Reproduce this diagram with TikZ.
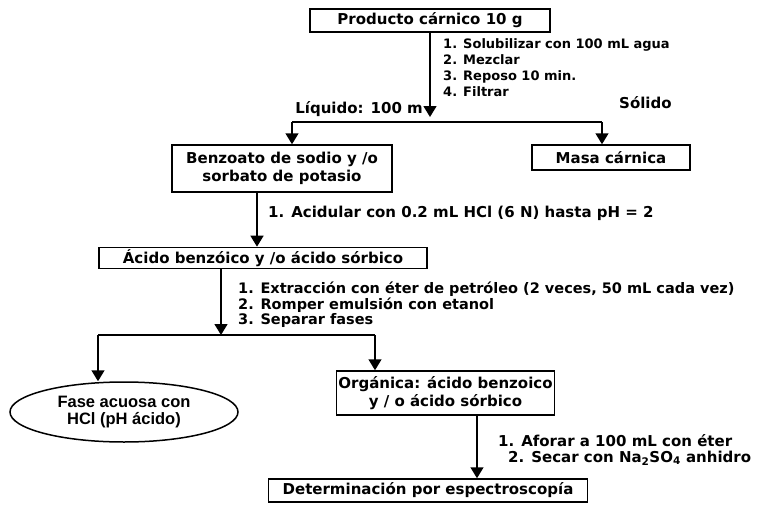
\documentclass[tikz,border=0pt]{standalone}
\usepackage{fontspec}
\setmainfont{DejaVu Sans}
\newfontfamily\ovalfont{Liberation Sans}
\usetikzlibrary{arrows.meta,shapes.geometric}

\begin{document}
\begin{tikzpicture}[x=1pt,y=-1pt,
  box/.style={draw,line width=1.5pt,inner sep=2pt,align=center,
    font=\bfseries\fontsize{15}{18.5}\selectfont},
  flow/.style={line width=1.5pt,-{Triangle[width=13pt,length=11pt]}},
  wire/.style={line width=1.5pt},
  note/.style={anchor=west,align=left,inner sep=0pt,
    font=\bfseries\fontsize{15}{15.5}\selectfont}]
\useasboundingbox (0,0) rectangle (772,504);

% boxes
\node[box,minimum width=240,minimum height=23] (prod) at (430,20.5) {Producto cárnico 10 g};
\node[box,minimum width=220,minimum height=47] (benz) at (282,168.5) {Benzoato de sodio y /o\\sorbato de potasio};
\node[box,minimum width=158,minimum height=25] (masa) at (611,157.5) {Masa cárnica};
\node[box,minimum width=328,minimum height=21] (acid) at (263,258) {Ácido benzóico y /o ácido sórbico};
\node[draw,ellipse,line width=1.5pt,minimum width=228,minimum height=60,inner sep=0pt,align=center,
  font=\ovalfont\bfseries\fontsize{16.5}{17}\selectfont] (acuosa) at (124,412) {Fase acuosa con\\HCl (pH ácido)};
\node[box,minimum width=213,minimum height=44] (org) at (445.5,393) {Orgánica: ácido benzoico\\y / o ácido sórbico};
\node[box,minimum width=319,minimum height=23] (det) at (428,490.5) {Determinación por espectroscopía};

% split points
\coordinate (s1) at (430,117);
\coordinate (s1l) at (292,122);
\coordinate (s1r) at (602,122);
\coordinate (s2) at (221,335);
\coordinate (s2l) at (98,335);
\coordinate (s2r) at (375,335);

% connectors
\draw[flow] (prod.south) -- (s1);
\draw[wire] (s1l) -- (s1r);
\draw[flow] (s1l) -- (s1l |- benz.north);
\draw[flow] (s1r) -- (s1r |- masa.north);
\draw[flow] (benz.south -| 257,0) -- (acid.north -| 257,0);
\draw[flow] (acid.south -| s2) -- (s2);
\draw[wire] (s2l) -- (s2r);
\draw[flow] (s2l) -- (s2l |- acuosa.north);
\draw[flow] (s2r) -- (s2r |- org.north);
\draw[flow] (org.south -| 477,0) -- (det.north -| 477,0);

% step notes
\node[note,anchor=north west,font=\bfseries\fontsize{13}{16}\selectfont] (n1) at (443,38) {1. Solubilizar con 100 mL agua\\2. Mezclar\\3. Reposo 10 min.\\4. Filtrar};
\node[note,anchor=east] (liq) at (423,109) {Líquido: 100 m};
\node[note] (sol) at (619,103) {Sólido};
\node[note] (n2) at (268,213) {1. Acidular con 0.2 mL HCl (6 N) hasta pH = 2};
\node[note,anchor=north west,font=\bfseries\fontsize{14.5}{15.2}\selectfont] (n3) at (238,282) {1. Extracción con éter de petróleo (2 veces, 50 mL cada vez)\\2. Romper emulsión con etanol\\3. Separar fases};
\node[note] (n4a) at (498,441) {1. Aforar a 100 mL con éter};
\node[note] (n4b) at (508,458) {2. Secar con Na\textsubscript{2}SO\textsubscript{4} anhidro};
\end{tikzpicture}
\end{document}
